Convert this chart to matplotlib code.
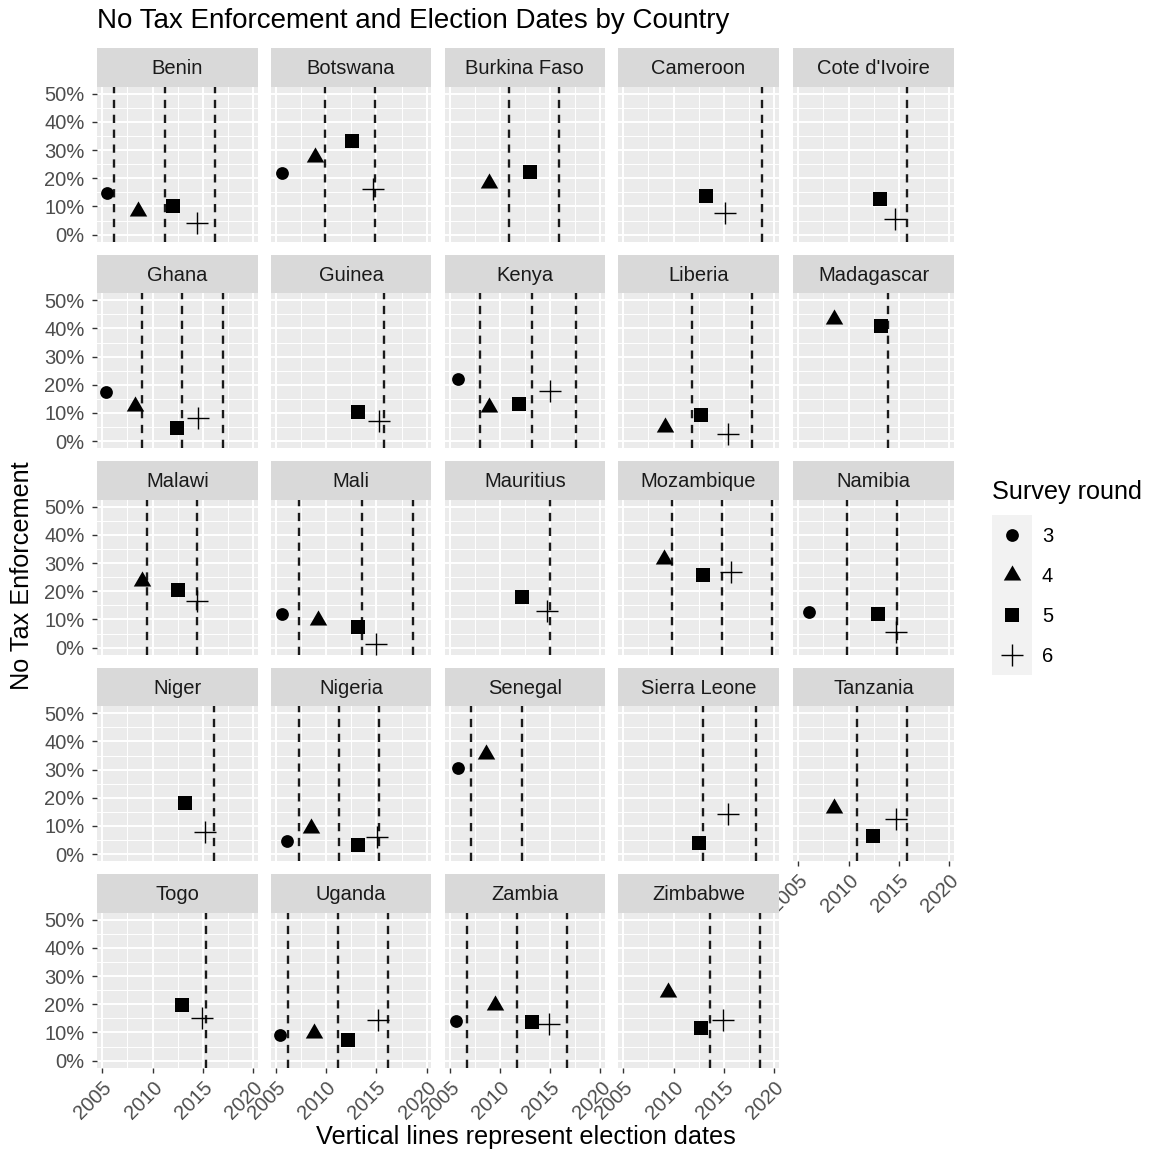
import numpy as np
import matplotlib.pyplot as plt
from matplotlib.path import Path

plt.rcParams['font.family'] = ['Liberation Sans', 'DejaVu Sans']

countries = ["Benin", "Botswana", "Burkina Faso", "Cameroon", "Cote d'Ivoire",
             "Ghana", "Guinea", "Kenya", "Liberia", "Madagascar",
             "Malawi", "Mali", "Mauritius", "Mozambique", "Namibia",
             "Niger", "Nigeria", "Senegal", "Sierra Leone", "Tanzania",
             "Togo", "Uganda", "Zambia", "Zimbabwe"]

# (fieldwork date, share reporting no tax enforcement) per survey round
round3 = {"Benin": (2005.43, 0.147), "Botswana": (2005.6, 0.22), "Ghana": (2005.33, 0.175),
          "Kenya": (2005.8, 0.22), "Mali": (2005.6, 0.12), "Namibia": (2006.1, 0.125),
          "Nigeria": (2006.1, 0.045), "Senegal": (2005.87, 0.305), "Uganda": (2005.43, 0.09),
          "Zambia": (2005.64, 0.14)}

round4 = {"Benin": (2008.5, 0.083), "Botswana": (2008.9, 0.275), "Burkina Faso": (2008.95, 0.185),
          "Ghana": (2008.25, 0.123), "Kenya": (2008.95, 0.121), "Liberia": (2009.14, 0.05),
          "Madagascar": (2008.5, 0.433), "Malawi": (2008.9, 0.238), "Mali": (2009.17, 0.098),
          "Mozambique": (2009.07, 0.314), "Nigeria": (2008.5, 0.094), "Senegal": (2008.6, 0.354),
          "Tanzania": (2008.5, 0.165), "Uganda": (2008.84, 0.097), "Zambia": (2009.52, 0.196),
          "Zimbabwe": (2009.47, 0.242)}

round5 = {"Benin": (2012.0, 0.10), "Botswana": (2012.6, 0.332), "Burkina Faso": (2013.0, 0.221),
          "Cameroon": (2013.2, 0.137), "Cote d'Ivoire": (2013.1, 0.128), "Ghana": (2012.4, 0.048),
          "Guinea": (2013.2, 0.102), "Kenya": (2011.95, 0.133), "Liberia": (2012.7, 0.093),
          "Madagascar": (2013.2, 0.407), "Malawi": (2012.55, 0.203), "Mali": (2013.15, 0.072),
          "Mauritius": (2012.17, 0.179), "Mozambique": (2012.94, 0.258), "Namibia": (2012.94, 0.12),
          "Niger": (2013.2, 0.182), "Nigeria": (2013.15, 0.032), "Sierra Leone": (2012.52, 0.038),
          "Tanzania": (2012.4, 0.066), "Togo": (2012.95, 0.197), "Uganda": (2012.2, 0.075),
          "Zambia": (2013.23, 0.138), "Zimbabwe": (2012.72, 0.117)}

round6 = {"Benin": (2014.44, 0.04), "Botswana": (2014.7, 0.162), "Cameroon": (2015.1, 0.078),
          "Cote d'Ivoire": (2014.6, 0.056), "Ghana": (2014.5, 0.081), "Guinea": (2015.3, 0.07),
          "Kenya": (2015.0, 0.177), "Liberia": (2015.4, 0.027), "Malawi": (2014.37, 0.165),
          "Mali": (2014.93, 0.012), "Mauritius": (2014.65, 0.129), "Mozambique": (2015.67, 0.267),
          "Namibia": (2014.67, 0.057), "Niger": (2015.2, 0.08), "Nigeria": (2015.1, 0.06),
          "Sierra Leone": (2015.43, 0.143), "Tanzania": (2014.7, 0.126), "Togo": (2014.87, 0.15),
          "Uganda": (2015.13, 0.144), "Zambia": (2014.88, 0.129), "Zimbabwe": (2014.93, 0.144)}

elections = {"Benin": [2006.2, 2011.2, 2016.2], "Botswana": [2009.85, 2014.85],
             "Burkina Faso": [2010.9, 2015.9], "Cameroon": [2018.8],
             "Cote d'Ivoire": [2015.75], "Ghana": [2008.95, 2012.95, 2016.95],
             "Guinea": [2015.78], "Kenya": [2007.98, 2013.2, 2017.6],
             "Liberia": [2011.8, 2017.8], "Madagascar": [2013.9],
             "Malawi": [2009.4, 2014.38], "Mali": [2007.35, 2013.6, 2018.6],
             "Mauritius": [2014.95], "Mozambique": [2009.85, 2014.83, 2019.8],
             "Namibia": [2009.87, 2014.85], "Niger": [2016.14],
             "Nigeria": [2007.32, 2011.3, 2015.23], "Senegal": [2007.18, 2012.17],
             "Sierra Leone": [2012.88, 2018.18], "Tanzania": [2010.8, 2015.78],
             "Togo": [2015.27], "Uganda": [2006.17, 2011.16, 2016.13],
             "Zambia": [2006.75, 2011.75, 2016.63], "Zimbabwe": [2013.6, 2018.58]}

rounds = [3, 4, 5, 6]
round_data = [round3, round4, round5, round6]
x_ticks = [2005, 2010, 2015, 2020]
y_ticks = [0, 0.1, 0.2, 0.3, 0.4, 0.5]
y_tick_labels = ["0%", "10%", "20%", "30%", "40%", "50%"]

# triangle centred on its centroid, like R's pch 17
tri = Path([(0, 1), (-0.866, -0.5), (0.866, -0.5), (0, 1)],
           [Path.MOVETO, Path.LINETO, Path.LINETO, Path.CLOSEPOLY])
shapes = {3: dict(marker="o", s=9.2 ** 2, color="black", linewidths=0),
          4: dict(marker=tri, s=14.5 ** 2, color="black", linewidths=0),
          5: dict(marker="s", s=10.4 ** 2, color="black", linewidths=0),
          6: dict(marker="+", s=15.5 ** 2, color="black", linewidths=1.0)}

W, H = 1149, 1153
fig = plt.figure(figsize=(W / 100, H / 100), dpi=100)


def px_rect(x, y, w, h):
    return [x / W, 1 - (y + h) / H, w / W, h / H]


col_left = [97.3, 270.7, 444.5, 618.3, 793.3]
panel_w = 160.5
strip_h = 38.4
panel_h = 155.0
top0 = 48.3
row_step = 206.5
ncol = 5
n = len(countries)

for i, country in enumerate(countries):
    r, c = divmod(i, ncol)
    top = top0 + r * row_step

    # strip
    sax = fig.add_axes(px_rect(col_left[c], top, panel_w, strip_h))
    sax.set_facecolor("#D9D9D9")
    sax.set_xticks([])
    sax.set_yticks([])
    for sp in sax.spines.values():
        sp.set_visible(False)
    sax.text(0.5, 0.47, country, ha="center", va="center", fontsize=14.5, color="#1A1A1A",
             transform=sax.transAxes)

    ax = fig.add_axes(px_rect(col_left[c], top + strip_h, panel_w, panel_h))
    ax.set_facecolor("#EBEBEB")
    for sp in ax.spines.values():
        sp.set_visible(False)
    ax.set_xlim(2004.5, 2020.45)
    ax.set_ylim(-0.025, 0.525)
    ax.set_xticks(x_ticks)
    ax.set_xticks([2007.5, 2012.5, 2017.5], minor=True)
    ax.set_yticks(y_ticks)
    ax.set_yticks([0.05, 0.15, 0.25, 0.35, 0.45], minor=True)
    ax.grid(which="major", color="white", lw=1.4)
    ax.grid(which="minor", color="white", lw=0.7)
    ax.set_axisbelow(True)
    ax.tick_params(which="minor", length=0)
    ax.tick_params(which="major", length=3.8, width=1.0, color="#333333",
                   labelcolor="#4D4D4D", labelsize=14.5)
    ax.tick_params(axis="y", pad=5.5)
    ax.tick_params(axis="x", pad=3.5)

    for d in elections[country]:
        ax.axvline(d, color="#1A1A1A", lw=1.7, linestyle=(0, (3.5, 2.8)), zorder=2)

    for rd, data in zip(rounds, round_data):
        if country in data:
            x, y = data[country]
            ax.scatter([x], [y], zorder=3, **shapes[rd])

    left = c == 0
    bottom = (i + ncol) >= n
    ax.tick_params(axis="y", left=left, labelleft=left)
    ax.tick_params(axis="x", bottom=bottom, labelbottom=bottom)
    ax.set_yticklabels(y_tick_labels)
    ax.set_xticklabels([str(t) for t in x_ticks])
    if bottom:
        for lab in ax.get_xticklabels():
            lab.set_rotation(45)
            lab.set_ha("right")
            lab.set_va("top")
            lab.set_rotation_mode("anchor")

fig.text(97 / W, 1 - 21 / H, "No Tax Enforcement and Election Dates by Country",
         ha="left", va="center", fontsize=20.0, color="black")
fig.text(525.7 / W, 1 - 1137 / H, "Vertical lines represent election dates",
         ha="center", va="center", fontsize=18.2, color="black")
fig.text(22 / W, 1 - 576 / H, "No Tax Enforcement", rotation=90,
         ha="center", va="center", fontsize=18.2, color="black")

# legend
fig.text(991.7 / W, 1 - 492 / H, "Survey round", ha="left", va="center",
         fontsize=18.2, color="black")
lax = fig.add_axes(px_rect(991.7, 515, 40, 160))
lax.set_facecolor("#F2F2F2")
lax.set_xlim(0, 1)
lax.set_ylim(0, 4)
lax.set_xticks([])
lax.set_yticks([])
for sp in lax.spines.values():
    sp.set_visible(False)
for k, rd in enumerate(rounds):
    yk = 3.5 - k
    lax.scatter([0.5], [yk], **shapes[rd])
    fig.text(1042 / W, 1 - (536 + 40 * k) / H, str(rd), ha="left", va="center",
             fontsize=14.5, color="black")

fig.savefig("out.png", dpi=100)
